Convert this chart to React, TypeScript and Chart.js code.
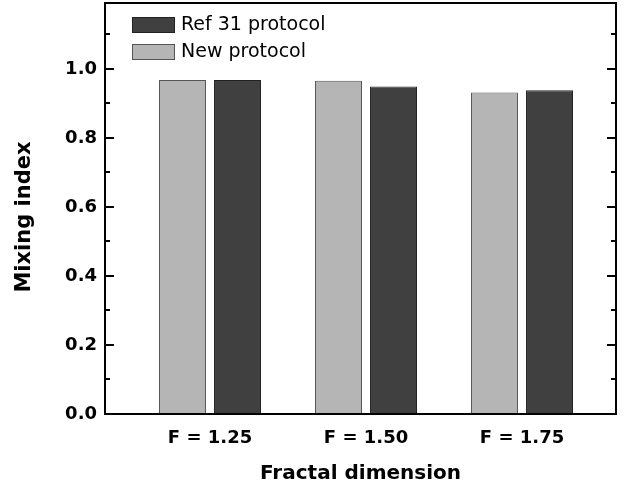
import React, { useEffect, useRef } from 'react';
import { Chart, registerables } from 'chart.js';

Chart.register(...registerables);

// ---- data ----
const F_VALUES = [1.25, 1.5, 1.75];
const CATEGORY_LABELS = ['F = 1.25', 'F = 1.50', 'F = 1.75'];
const NEW_PROTOCOL = [0.968, 0.966, 0.932];
const REF31_PROTOCOL = [0.968, 0.949, 0.938];
const SERIES_LABELS = ['New protocol', 'Ref 31 protocol'];
const Y_TICKS = [0, 0.2, 0.4, 0.6, 0.8, 1.0];
const Y_MINOR_TICKS = [0.1, 0.3, 0.5, 0.7, 0.9, 1.1];
const Y_MIN = 0;
const Y_MAX = 1.191;
const X_MIN = 1.0817;
const X_MAX = 1.9006;
const X_TITLE = 'Fractal dimension';
const Y_TITLE = 'Mixing index';

const FONT = 'DejaVu Sans';

const framePlugin = {
  id: 'framePlugin',
  afterDraw(chart: any) {
    const { ctx, chartArea } = chart;
    const { left, right, top, bottom } = chartArea;
    const y = chart.scales.y;
    ctx.save();
    ctx.strokeStyle = '#000';
    ctx.lineWidth = 2;
    ctx.strokeRect(left, top, right - left, bottom - top);
    ctx.beginPath();
    Y_TICKS.forEach((v) => {
      const py = Math.round(y.getPixelForValue(v));
      ctx.moveTo(left, py);
      ctx.lineTo(left + 9, py);
      ctx.moveTo(right, py);
      ctx.lineTo(right - 9, py);
    });
    Y_MINOR_TICKS.forEach((v) => {
      const py = Math.round(y.getPixelForValue(v));
      ctx.moveTo(left, py);
      ctx.lineTo(left + 5, py);
      ctx.moveTo(right, py);
      ctx.lineTo(right - 5, py);
    });
    ctx.stroke();

    // y axis title
    ctx.fillStyle = '#000';
    ctx.font = `bold 21px "${FONT}"`;
    ctx.textAlign = 'center';
    ctx.textBaseline = 'middle';
    ctx.translate(25, 217);
    ctx.rotate(-Math.PI / 2);
    ctx.fillText(Y_TITLE, 0, 0);
    ctx.restore();
  },
};

const legendPlugin = {
  id: 'insideLegend',
  afterDraw(chart: any) {
    const { ctx, chartArea } = chart;
    const datasets = [...chart.data.datasets].reverse();
    const x0 = chartArea.left + 27;
    const y0 = chartArea.top + 14;
    ctx.save();
    ctx.font = `19px "${FONT}"`;
    ctx.textAlign = 'left';
    ctx.textBaseline = 'middle';
    datasets.forEach((ds: any, i: number) => {
      const by = y0 + i * 27;
      ctx.fillStyle = ds.backgroundColor;
      ctx.fillRect(x0, by, 43, 16);
      ctx.strokeStyle = ds.borderColor;
      ctx.lineWidth = 1;
      ctx.strokeRect(x0 + 0.5, by + 0.5, 42, 15);
      ctx.fillStyle = '#000';
      ctx.fillText(ds.label, x0 + 49, by + 8.5);
    });
    ctx.restore();
  },
};

export default function App() {
  const canvasRef = useRef<HTMLCanvasElement | null>(null);

  useEffect(() => {
    document.body.style.margin = '0';
    const canvas = canvasRef.current;
    if (!canvas) return;
    const chart = new Chart(canvas, {
      type: 'bar',
      data: {
        datasets: [
          {
            label: SERIES_LABELS[0],
            data: F_VALUES.map((x, i) => ({ x, y: NEW_PROTOCOL[i] })),
            backgroundColor: '#b5b5b5',
            borderColor: '#555555',
            borderWidth: 1,
          },
          {
            label: SERIES_LABELS[1],
            data: F_VALUES.map((x, i) => ({ x, y: REF31_PROTOCOL[i] })),
            backgroundColor: '#404040',
            borderColor: '#222222',
            borderWidth: 1,
          },
        ],
      },
      options: {
        animation: false,
        responsive: false,
        maintainAspectRatio: false,
        layout: { padding: { left: 0, top: 3, right: 13, bottom: 0 } },
        plugins: { legend: { display: false }, tooltip: { enabled: false } },
        datasets: { bar: { categoryPercentage: 110 / 156, barPercentage: 47 / 55 } },
        scales: {
          x: {
            type: 'linear',
            min: X_MIN,
            max: X_MAX,
            offset: false,
            grid: { display: false, drawTicks: false },
            border: { display: false },
            afterBuildTicks: (s: any) => {
              s.ticks = F_VALUES.map((v) => ({ value: v }));
            },
            afterFit: (s: any) => {
              s.height = 76;
              s.paddingLeft = 0;
              s.paddingRight = 0;
              s.paddingTop = 0;
              s.paddingBottom = 0;
            },
            ticks: {
              autoSkip: false,
              maxRotation: 0,
              padding: 14,
              color: '#000',
              font: { family: FONT, weight: 'bold', size: 18 },
              callback: (_v: any, i: number) => CATEGORY_LABELS[i],
            },
            title: {
              display: true,
              text: X_TITLE,
              color: '#000',
              font: { family: FONT, weight: 'bold', size: 20 },
              padding: { top: 0, bottom: 4 },
            },
          },
          y: {
            type: 'linear',
            min: Y_MIN,
            max: Y_MAX,
            grid: { display: false, drawTicks: false },
            border: { display: false },
            afterBuildTicks: (s: any) => {
              s.ticks = Y_TICKS.map((v) => ({ value: v }));
            },
            afterFit: (s: any) => {
              s.width = 105;
              s.paddingTop = 0;
              s.paddingBottom = 0;
              s.paddingLeft = 0;
              s.paddingRight = 0;
            },
            ticks: {
              padding: 8,
              color: '#000',
              font: { family: FONT, weight: 'bold', size: 18 },
              callback: (v: any) => Number(v).toFixed(1),
            },
          },
        },
      } as any,
      plugins: [framePlugin, legendPlugin],
    });
    return () => chart.destroy();
  }, []);

  return (
    <div style={{ width: 629, height: 490 }}>
      <canvas ref={canvasRef} width={629} height={490} style={{ display: 'block' }} />
    </div>
  );
}
